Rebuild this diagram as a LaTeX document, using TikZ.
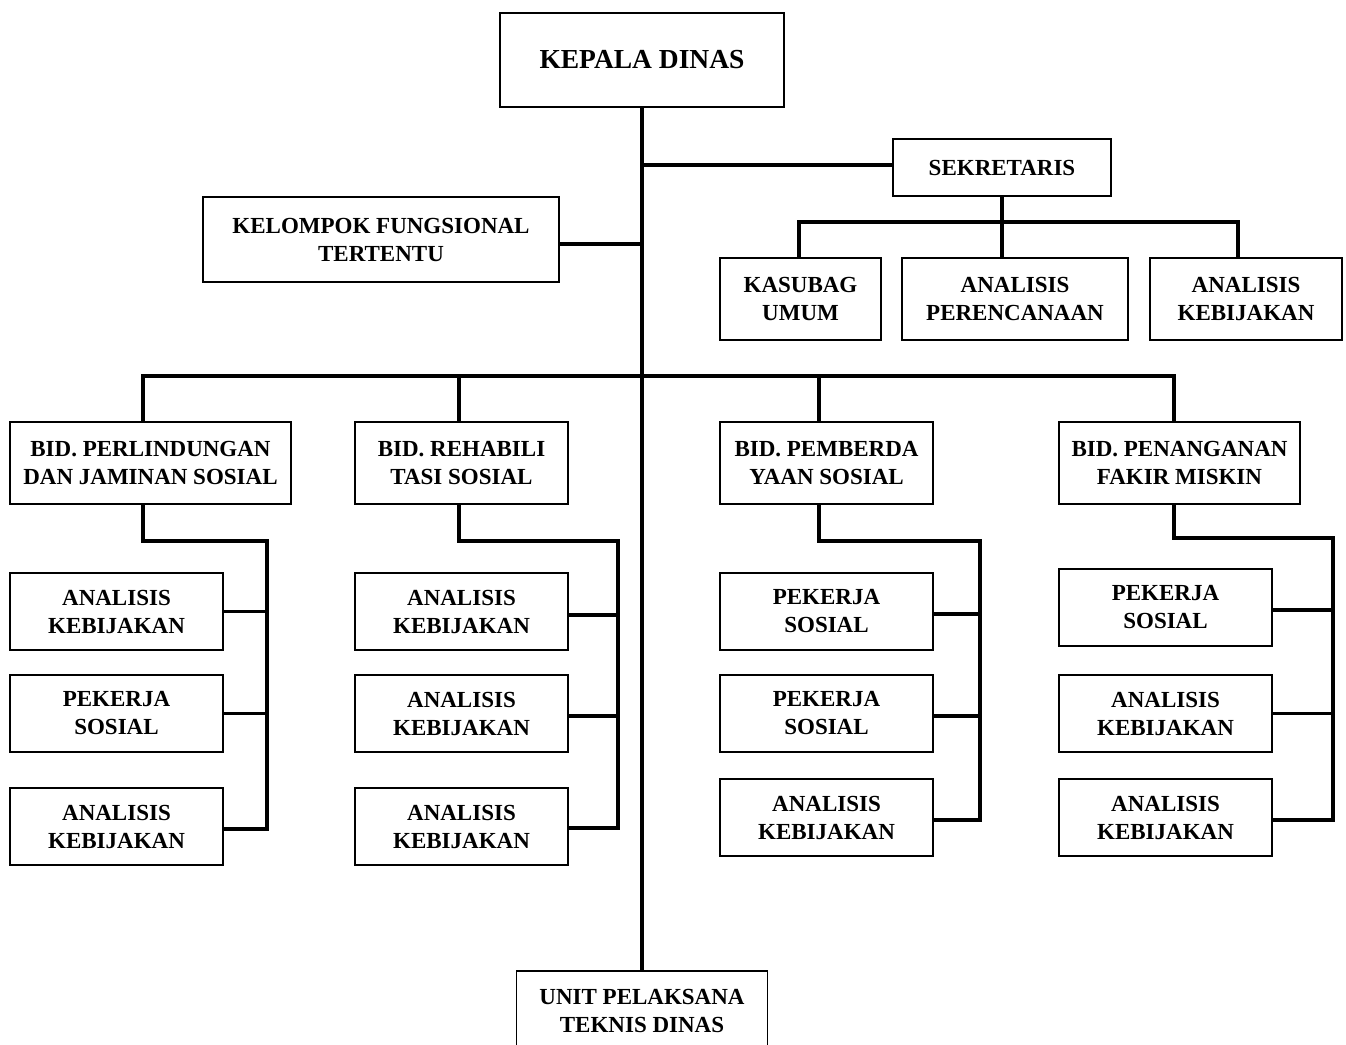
\documentclass[tikz,border=0pt]{standalone}
\usepackage{fontspec}
\setmainfont{Liberation Serif}
\begin{document}
\begin{tikzpicture}[x=1pt,y=-1pt,
  box/.style={draw, line width=1.7pt, fill=white, inner sep=0pt, align=center,
    font=\bfseries\fontsize{23}{28}\selectfont},
  sub/.style={box, minimum width=213pt, minimum height=77pt},
  bid/.style={box, minimum height=82pt},
  conn/.style={line width=3.5pt, line cap=rect, line join=miter}]
\useasboundingbox (0,0) rectangle (1346,1044);
\clip (0,0) rectangle (1346,1044);
\fill[white] (0,0) rectangle (1346,1044);

\coordinate (sbar) at (1002,222);
\coordinate (mbar) at (642,376);

% nodes
\node[box, minimum width=284pt, minimum height=94pt, font=\bfseries\fontsize{27.5}{32}\selectfont] (kepala) at (642,60) {KEPALA DINAS};
\node[box, minimum width=218pt, minimum height=57pt] (sek) at (1002,167.5) {SEKRETARIS};
\node[box, minimum width=356pt, minimum height=85pt] (kft) at (381,239.5) {KELOMPOK FUNGSIONAL\\TERTENTU};
\node[box, minimum width=161pt, minimum height=82pt] (kas) at (800.5,299) {KASUBAG\\UMUM};
\node[box, minimum width=226pt, minimum height=82pt] (aper) at (1015,299) {ANALISIS\\PERENCANAAN};
\node[box, minimum width=192pt, minimum height=82pt] (akeb) at (1246,299) {ANALISIS\\KEBIJAKAN};

\node[bid, minimum width=281pt] (bidA) at (150.5,463) {BID. PERLINDUNGAN\\DAN JAMINAN SOSIAL};
\node[bid, minimum width=213pt] (bidB) at (461.5,463) {BID. REHABILI\\TASI SOSIAL};
\node[bid, minimum width=213pt] (bidC) at (826.5,463) {BID. PEMBERDA\\YAAN SOSIAL};
\node[bid, minimum width=241pt] (bidD) at (1179.5,463) {BID. PENANGANAN\\FAKIR MISKIN};

\node[sub] (a1) at (116.5,611.5) {ANALISIS\\KEBIJAKAN};
\node[sub] (a2) at (116.5,713.5) {PEKERJA\\SOSIAL};
\node[sub] (a3) at (116.5,826.5) {ANALISIS\\KEBIJAKAN};

\node[sub] (b1) at (461.5,611.5) {ANALISIS\\KEBIJAKAN};
\node[sub] (b2) at (461.5,713.5) {ANALISIS\\KEBIJAKAN};
\node[sub] (b3) at (461.5,826.5) {ANALISIS\\KEBIJAKAN};

\node[sub] (c1) at (826.5,611.5) {PEKERJA\\SOSIAL};
\node[sub] (c2) at (826.5,713.5) {PEKERJA\\SOSIAL};
\node[sub] (c3) at (826.5,817.5) {ANALISIS\\KEBIJAKAN};

\node[sub] (d1) at (1165.5,607.5) {PEKERJA\\SOSIAL};
\node[sub] (d2) at (1165.5,713.5) {ANALISIS\\KEBIJAKAN};
\node[sub] (d3) at (1165.5,817.5) {ANALISIS\\KEBIJAKAN};

\node[box, minimum width=251pt, minimum height=80pt] (upt) at (642,1011) {UNIT PELAKSANA\\TEKNIS DINAS};

% main spine
\draw[conn, line cap=butt] (kepala.south) -- (kepala.south |- upt.north);
\draw[conn, line cap=butt] ([yshift=2.5pt]sek.west) -- ([yshift=2.5pt]sek.west -| kepala.south);
\draw[conn, line cap=butt] ([yshift=-4.5pt]kft.east) -- ([yshift=-4.5pt]kft.east -| kepala.south);

% sekretaris group
\draw[conn, line cap=butt] (sek.south) -- (sek.south |- aper.north);
\draw[conn] ([xshift=-1.5pt]kas.north) -- ([xshift=-1.5pt]kas.north |- sbar) -- ([xshift=-8pt]akeb.north |- sbar) -- ([xshift=-8pt]akeb.north);

% bidang bar
\draw[conn] ([xshift=-7.5pt]bidA.north) -- ([xshift=-7.5pt]bidA.north |- mbar) -- ([xshift=-5.5pt]bidD.north |- mbar) -- ([xshift=-5.5pt]bidD.north);
\draw[conn, line cap=butt] ([xshift=-2.5pt]bidB.north) -- ([xshift=-2.5pt]bidB.north |- mbar);
\draw[conn, line cap=butt] ([xshift=-7.5pt]bidC.north) -- ([xshift=-7.5pt]bidC.north |- mbar);

% column A
\coordinate (va) at (267,541);
\draw[conn] ([xshift=-7.5pt]bidA.south) -- ([xshift=-7.5pt]bidA.south |- va) -- (va) -- ([yshift=-2.5pt]a3.east -| va) -- ([yshift=-2.5pt]a3.east);
\draw[conn, line cap=butt] (a1.east) -- (a1.east -| va);
\draw[conn, line cap=butt] (a2.east) -- (a2.east -| va);

% column B
\coordinate (vb) at (618,541);
\draw[conn] ([xshift=-2.5pt]bidB.south) -- ([xshift=-2.5pt]bidB.south |- vb) -- (vb) -- ([yshift=-1.5pt]b3.east -| vb) -- ([yshift=-1.5pt]b3.east);
\draw[conn, line cap=butt] ([yshift=-3.5pt]b1.east) -- ([yshift=-3.5pt]b1.east -| vb);
\draw[conn, line cap=butt] ([yshift=-2.5pt]b2.east) -- ([yshift=-2.5pt]b2.east -| vb);

% column C
\coordinate (vc) at (980,541);
\draw[conn] ([xshift=-7.5pt]bidC.south) -- ([xshift=-7.5pt]bidC.south |- vc) -- (vc) -- ([yshift=-2.5pt]c3.east -| vc) -- ([yshift=-2.5pt]c3.east);
\draw[conn, line cap=butt] ([yshift=-2.5pt]c1.east) -- ([yshift=-2.5pt]c1.east -| vc);
\draw[conn, line cap=butt] ([yshift=-2.5pt]c2.east) -- ([yshift=-2.5pt]c2.east -| vc);

% column D
\coordinate (vd) at (1333,538);
\draw[conn] ([xshift=-5.5pt]bidD.south) -- ([xshift=-5.5pt]bidD.south |- vd) -- (vd) -- ([yshift=-2.5pt]d3.east -| vd) -- ([yshift=-2.5pt]d3.east);
\draw[conn, line cap=butt] ([yshift=-2.5pt]d1.east) -- ([yshift=-2.5pt]d1.east -| vd);
\draw[conn, line cap=butt] (d2.east) -- (d2.east -| vd);
\end{tikzpicture}
\end{document}
